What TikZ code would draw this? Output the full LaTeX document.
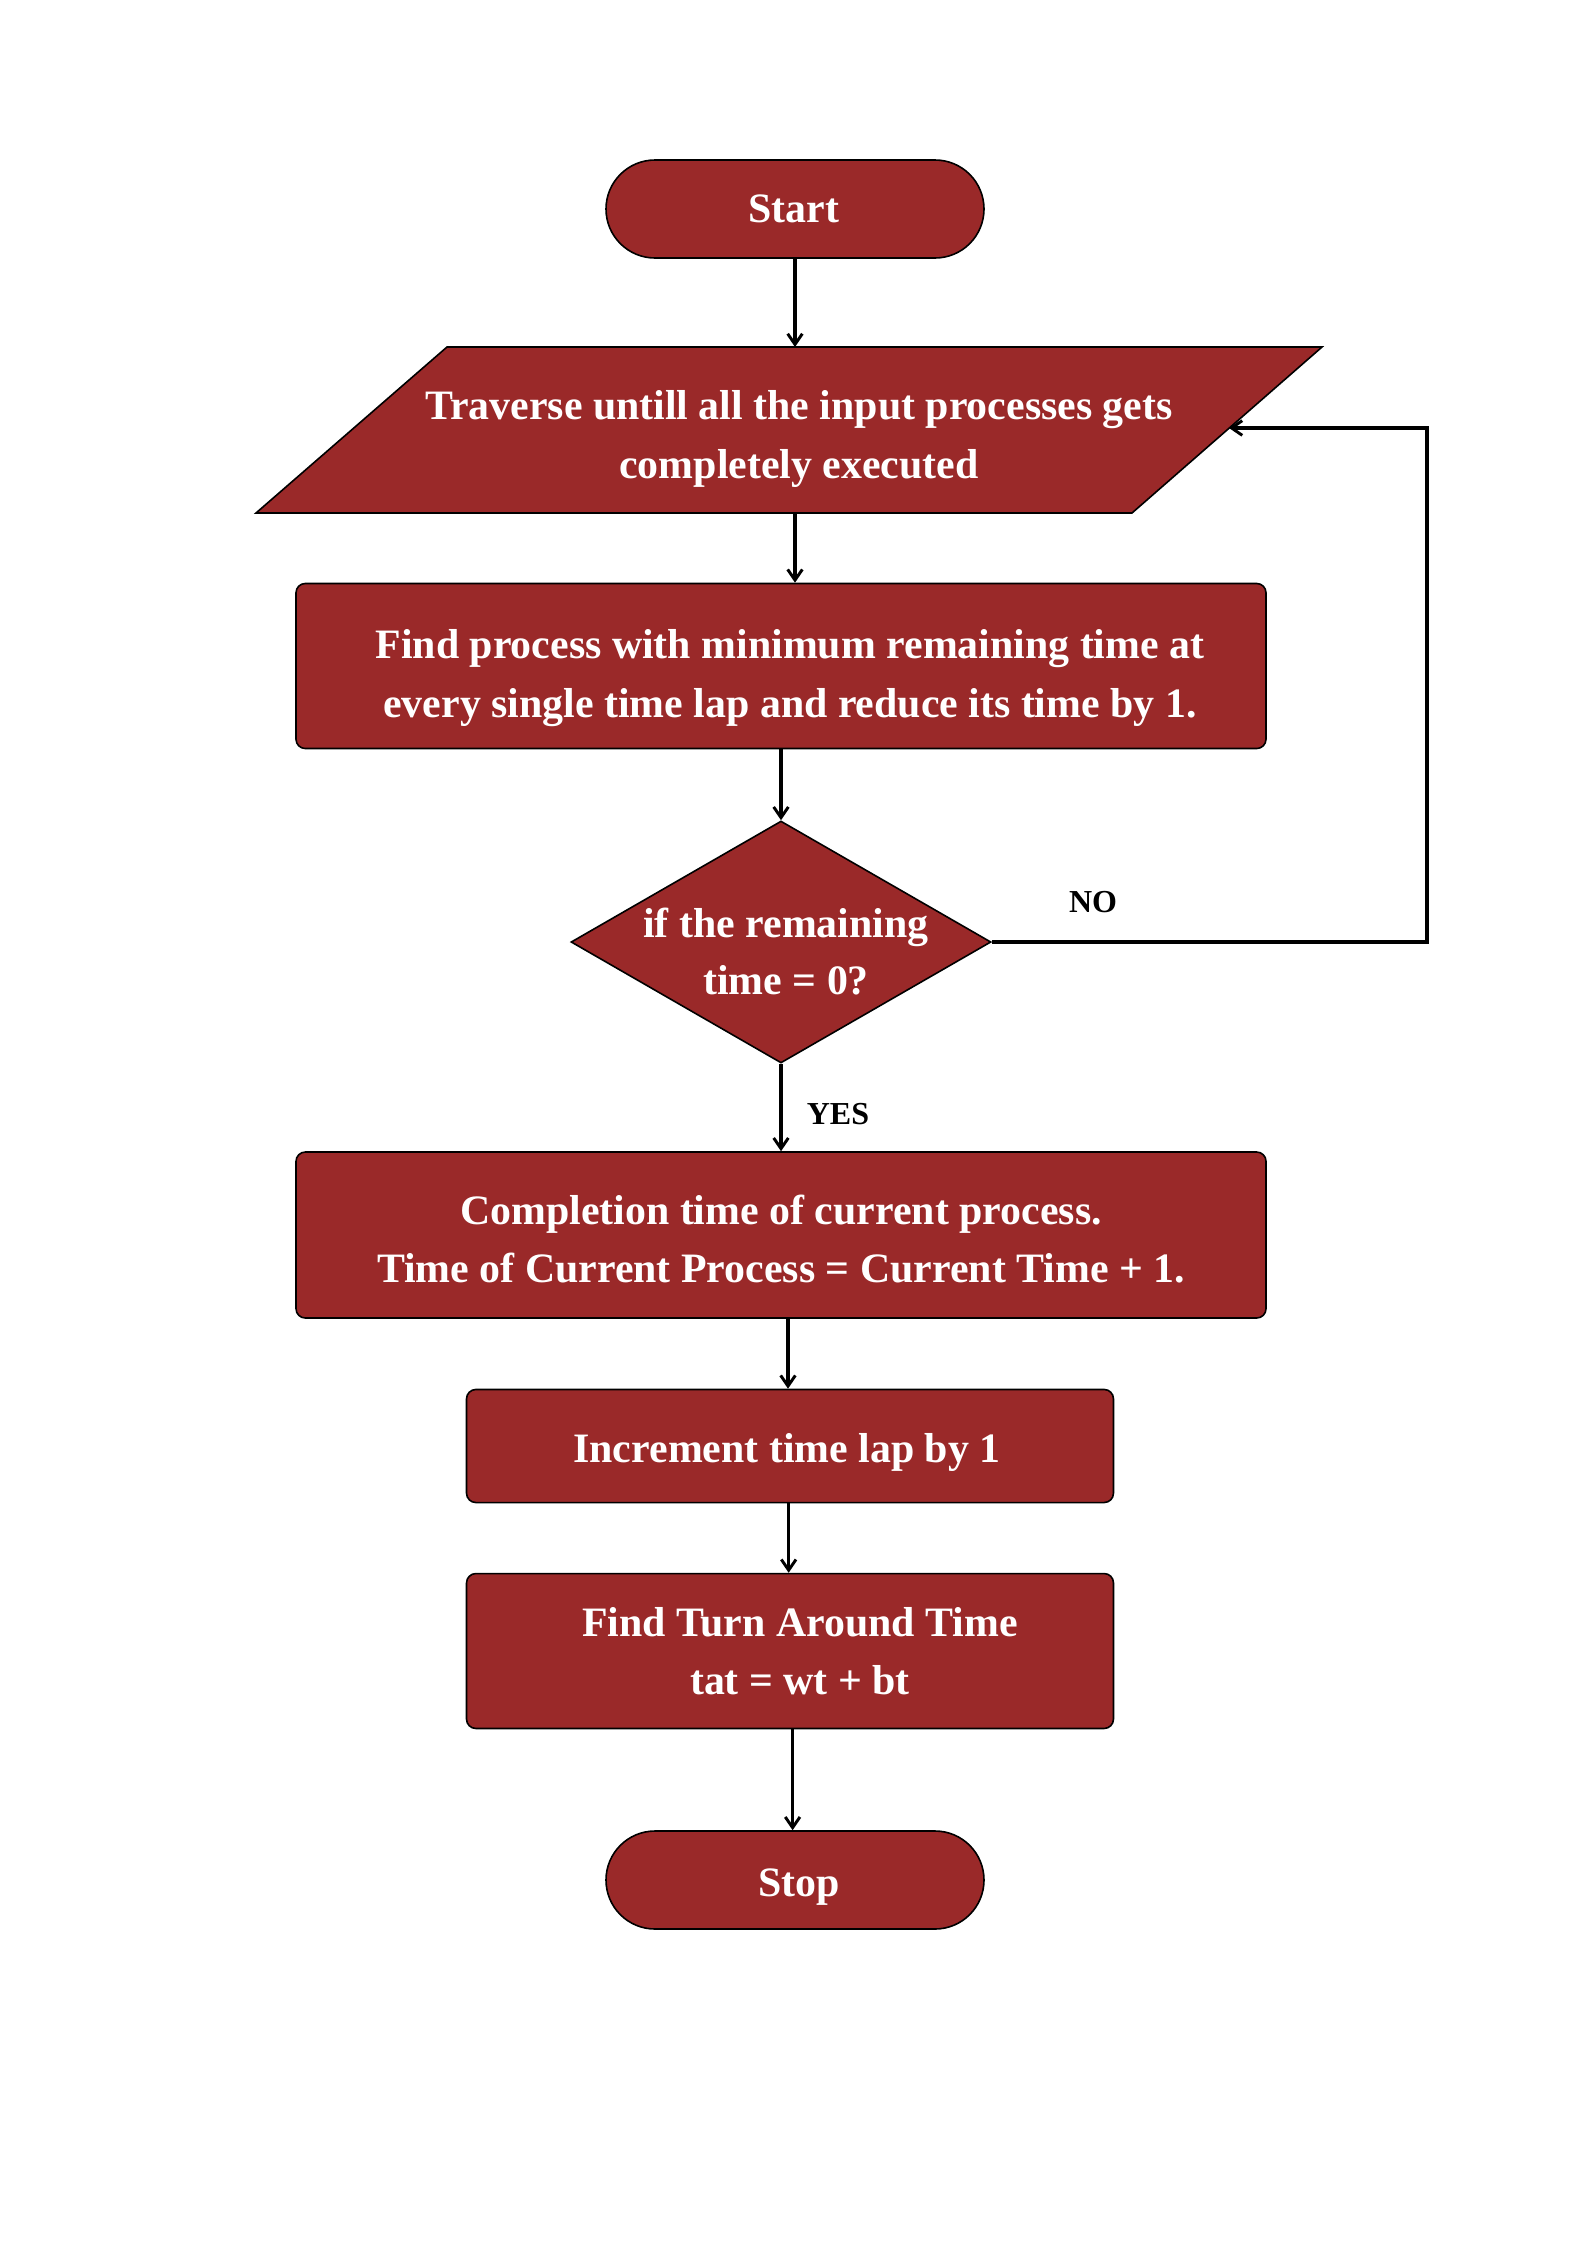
\documentclass[tikz,border=0pt]{standalone}
\usepackage{fontspec}
\setmainfont{Liberation Serif}
\usetikzlibrary{shapes.misc,shapes.geometric,arrows.meta}
\definecolor{maroon}{RGB}{154,41,41}
\tikzset{
  shapefill/.style={fill=maroon,draw=black,line width=0.6pt},
  terminal/.style={shapefill,rounded rectangle,minimum width=141.75pt,minimum height=36.75pt,inner sep=0pt},
  procbox/.style={shapefill,rectangle,rounded corners=3.5pt,inner sep=0pt},
  decision/.style={shapefill,diamond,minimum width=157.5pt,minimum height=90.75pt,inner sep=0pt},
  wtext/.style={text=white,align=center,font=\fontsize{15.7}{22}\selectfont\bfseries,inner sep=0pt},
  lbl/.style={text=black,font=\fontsize{12}{14}\selectfont\bfseries,inner sep=0pt},
  arr/.style={draw=black,line width=1.2pt,-{Straight Barb[length=4pt,width=5.5pt,line width=1.1pt]}}
}
\begin{document}
\begin{tikzpicture}[x=0.375pt,y=-0.375pt]
\useasboundingbox (0,0) rectangle (1587,2245);
% shapes
\node[terminal] (start) at (795,209) {};
\coordinate (p1) at (447,347);
\coordinate (p2) at (1322,347);
\coordinate (p3) at (1132,513);
\coordinate (p4) at (256,513);
\draw[shapefill] (p1) -- (p2) -- (p3) -- (p4) -- cycle;
\coordinate (ptop) at (795,347);
\coordinate (pbot) at (795,513);
\coordinate (pright) at (1229,428);
\coordinate (fb) at (1427,428);
\node[procbox,minimum width=363.75pt,minimum height=61.9pt] (r1) at (781,666) {};
\node[decision] (dec) at (781,942) {};
\node[procbox,minimum width=363.75pt,minimum height=62.25pt] (r2) at (781,1235) {};
\node[procbox,minimum width=242.6pt,minimum height=42.4pt] (r3) at (790,1446) {};
\node[procbox,minimum width=242.6pt,minimum height=58.1pt] (r4) at (790,1651) {};
\node[terminal] (stop) at (795,1880) {};
% texts
\node[wtext] (starttext) at (794,209) {Start};
\node[wtext] (paratext) at (799,439) {Traverse untill all the input processes gets\\completely executed};
\node[wtext] (r1text) at (790,678) {Find process with minimum remaining time at\\every single time lap and reduce its time by 1.};
\node[wtext] (dectext) at (786,952) {if the remaining\\[-0.6pt]time = 0?};
\node[wtext] (r2text) at (781,1239) {Completion time of current process.\\Time of Current Process = Current Time + 1.};
\node[wtext] (r3text) at (787,1452) {Increment time lap by 1};
\node[wtext] (r4text) at (800,1651) {Find Turn Around Time\\tat = wt + bt};
\node[wtext] (stoptext) at (799,1887) {Stop};
\node[lbl] (no) at (1093,902) {NO};
\node[lbl] (yes) at (838,1114) {YES};
% connectors
\draw[arr] (start.south) -- (ptop);
\draw[arr] (pbot) -- (pbot |- r1.north);
\draw[arr] (r1.south -| dec.north) -- (dec.north);
\draw[arr] (dec.south) -- (r2.north -| dec.south);
\draw[arr] ([xshift=-0.75pt]r2.south -| r3.north) -- ([xshift=-0.75pt]r3.north);
\draw[arr] ([xshift=-0.5pt]r3.south) -- ([xshift=-0.5pt]r4.north);
\draw[arr] ([xshift=-0.9pt]stop.north |- r4.south) -- ([xshift=-0.9pt]stop.north);
\draw[arr] (dec.east) -| (fb) -- (pright);
\end{tikzpicture}
\end{document}
